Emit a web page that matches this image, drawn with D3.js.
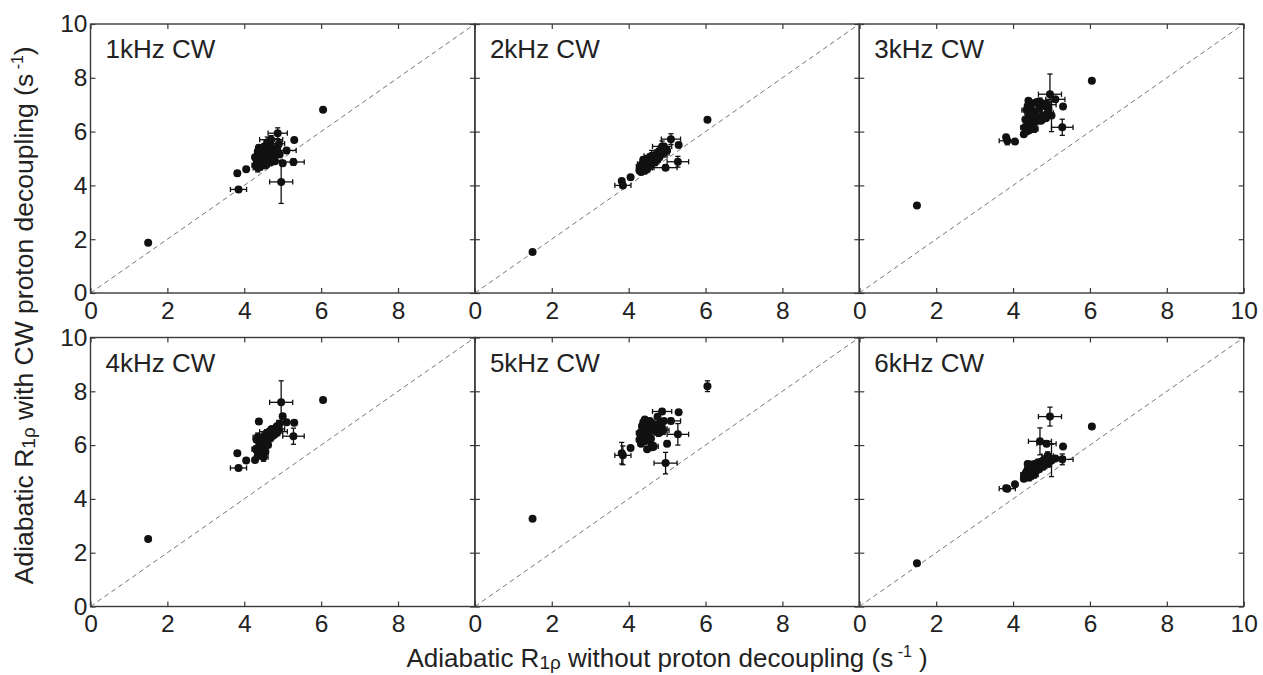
<!DOCTYPE html>
<html>
<head>
<meta charset="utf-8">
<script src="https://cdn.jsdelivr.net/npm/d3@7"></script>
<style>
  html, body { margin: 0; padding: 0; background: #fff; }
  svg { display: block; }
  text { font-family: "Liberation Sans", Arial, Helvetica, sans-serif; fill: #222; }
</style>
</head>
<body>
<svg id="chart" width="1263" height="675"></svg>
<script>
// ---------------- DATA ----------------
const panelLabels = ["1kHz CW", "2kHz CW", "3kHz CW", "4kHz CW", "5kHz CW", "6kHz CW"];
const tickValues = [0, 2, 4, 6, 8, 10];

// x: adiabatic R1rho without proton decoupling (shared by all panels)
const xOutliers = [1.50, 3.82, 3.85, 4.05, 6.05, 5.30, 5.28, 5.00, 4.96, 4.87, 5.10, 4.70];
const xCluster  = [4.28, 4.30, 4.32, 4.35, 4.35, 4.38, 4.40, 4.42, 4.42, 4.45, 4.48, 4.50, 4.52, 4.55,
                   4.55, 4.58, 4.60, 4.62, 4.65, 4.68, 4.72, 4.75, 4.78, 4.80, 4.85, 4.90, 4.92, 4.38];
const xErrOutliers = [0, 0.05, 0.21, 0, 0, 0, 0.28, 0.06, 0.30, 0.25, 0.25, 0.30];
const xErrCluster  = [0.06, 0.10, 0.05, 0.08, 0.12, 0.05, 0.06, 0.10, 0.05, 0.08, 0.06, 0.12, 0.05, 0.07,
                      0.10, 0.05, 0.08, 0.06, 0.12, 0.05, 0.09, 0.06, 0.10, 0.05, 0.08, 0.15, 0.06, 0.05];

// y per panel (with CW proton decoupling)
const y1kHz = [1.87, 4.45, 3.85, 4.60, 6.81, 5.69, 4.87, 4.82, 4.13, 5.94, 5.30, 5.70,
  5.05, 4.75, 4.95, 5.25, 4.65, 4.85, 5.10, 4.70, 5.35, 4.90, 5.15, 4.80, 5.45, 5.00,
  4.75, 5.30, 5.60, 4.95, 5.20, 4.85, 5.40, 5.05, 5.25, 4.90, 5.35, 5.55, 5.15, 5.40];
const y2kHz = [1.52, 4.16, 4.00, 4.30, 6.44, 5.50, 4.88, 5.30, 4.66, 5.45, 5.72, 5.10,
  4.55, 4.70, 4.50, 4.65, 4.80, 4.60, 4.75, 4.55, 4.85, 4.70, 4.90, 4.65, 4.95, 4.80,
  5.05, 4.75, 5.10, 4.90, 5.00, 4.85, 5.15, 4.95, 5.25, 5.05, 5.35, 5.20, 5.45, 4.95];
const y3kHz = [3.25, 5.79, 5.66, 5.63, 7.89, 6.93, 6.16, 6.60, 7.39, 7.00, 7.20, 7.10,
  5.90, 6.15, 6.45, 6.00, 6.80, 6.30, 7.15, 6.55, 6.05, 6.90, 6.20, 6.60, 7.05, 6.35,
  6.10, 6.75, 6.45, 7.10, 6.55, 6.85, 6.40, 7.05, 6.60, 6.95, 6.50, 6.70, 6.85, 6.95];
const y4kHz = [2.51, 5.70, 5.15, 5.43, 7.68, 6.83, 6.33, 7.07, 7.59, 6.50, 6.85, 6.50,
  5.45, 5.85, 6.20, 5.60, 6.30, 5.95, 6.10, 5.70, 6.25, 5.90, 6.15, 5.55, 6.35, 5.75,
  6.05, 6.45, 6.20, 6.00, 6.50, 6.25, 6.60, 6.35, 6.55, 6.40, 6.70, 6.60, 6.80, 6.88];
const y5kHz = [3.26, 5.70, 5.62, 5.89, 8.19, 7.22, 6.40, 6.05, 5.33, 7.25, 6.90, 6.60,
  6.20, 6.45, 6.05, 6.70, 6.30, 6.85, 6.50, 6.15, 6.95, 6.60, 5.85, 6.75, 6.40, 6.90,
  6.55, 6.25, 6.00, 6.80, 5.95, 6.65, 6.50, 7.05, 6.45, 6.80, 6.70, 6.55, 6.90, 6.20];
const y6kHz = [1.61, 4.40, 4.38, 4.54, 6.69, 5.95, 5.47, 5.43, 7.06, 6.05, 5.50, 6.14,
  4.75, 4.90, 4.80, 5.00, 4.85, 5.10, 4.95, 4.80, 5.20, 5.05, 4.90, 5.25, 5.00, 5.15,
  4.90, 5.30, 5.05, 5.20, 5.35, 5.10, 5.25, 5.40, 5.20, 5.45, 5.35, 5.60, 5.30, 5.30];

// y error per panel (outliers first, then cluster)
const yErrCluster = [0.08, 0.12, 0.06, 0.10, 0.15, 0.06, 0.08, 0.12, 0.06, 0.10, 0.08, 0.15, 0.06, 0.09,
                     0.12, 0.06, 0.20, 0.08, 0.12, 0.06, 0.10, 0.08, 0.12, 0.06, 0.10, 0.15, 0.08, 0.10];
const yErr1kHz = [0, 0.10, 0.10, 0, 0, 0, 0.12, 0.10, 0.80, 0.20, 0.10, 0.15];
const yErr2kHz = [0, 0.08, 0.08, 0, 0, 0, 0.20, 0.10, 0.10, 0.20, 0.20, 0.10];
const yErr3kHz = [0, 0.10, 0.15, 0, 0, 0, 0.30, 0.60, 0.75, 0.15, 0.10, 0.15];
const yErr4kHz = [0, 0, 0.08, 0, 0, 0, 0.30, 0.10, 0.80, 0.15, 0.10, 0.15];
const yErr5kHz = [0, 0.40, 0.35, 0, 0.20, 0, 0.40, 0.10, 0.40, 0.10, 0.10, 0.10];
const yErr6kHz = [0, 0.10, 0.10, 0, 0, 0, 0.20, 0.60, 0.35, 0.10, 0.10, 0.50];

// ---------------- BUILD ----------------
const xVals = xOutliers.concat(xCluster);
const xErrs = xErrOutliers.concat(xErrCluster);
const ySeries = [y1kHz, y2kHz, y3kHz, y4kHz, y5kHz, y6kHz];
const yErrSeries = [yErr1kHz, yErr2kHz, yErr3kHz, yErr4kHz, yErr5kHz, yErr6kHz].map(a => a.concat(yErrCluster));

const svg = d3.select("#chart");
const left = 90.5, plotW = 384.4, plotH = 269;
const tops = [24, 337.5];
const frameColor = "#3a3a3a";
const fontFam = "'Liberation Sans', Arial, Helvetica, sans-serif";

ySeries.forEach((ys, p) => {
  const col = p % 3, row = Math.floor(p / 3);
  const x0 = left + col * plotW, y0 = tops[row];
  const g = svg.append("g").attr("transform", `translate(${x0},${y0})`);
  const x = d3.scaleLinear().domain([0, 10]).range([0, plotW]);
  const y = d3.scaleLinear().domain([0, 10]).range([plotH, 0]);

  // diagonal y = x
  g.append("line")
    .attr("x1", x(0)).attr("y1", y(0)).attr("x2", x(10)).attr("y2", y(10))
    .attr("stroke", "#777").attr("stroke-width", 1).attr("stroke-dasharray", "5,3.5");

  const pts = xVals.map((xv, i) => ({ x: xv, y: ys[i], xe: xErrs[i], ye: yErrSeries[p][i] }));

  // error bars
  const eb = g.append("g").attr("stroke", "#111").attr("stroke-width", 1.3);
  const cap = 2.6;
  pts.forEach(d => {
    if (d.xe > 0) {
      eb.append("line").attr("x1", x(d.x - d.xe)).attr("x2", x(d.x + d.xe)).attr("y1", y(d.y)).attr("y2", y(d.y));
      eb.append("line").attr("x1", x(d.x - d.xe)).attr("x2", x(d.x - d.xe)).attr("y1", y(d.y) - cap).attr("y2", y(d.y) + cap);
      eb.append("line").attr("x1", x(d.x + d.xe)).attr("x2", x(d.x + d.xe)).attr("y1", y(d.y) - cap).attr("y2", y(d.y) + cap);
    }
    if (d.ye > 0) {
      eb.append("line").attr("x1", x(d.x)).attr("x2", x(d.x)).attr("y1", y(d.y - d.ye)).attr("y2", y(d.y + d.ye));
      eb.append("line").attr("x1", x(d.x) - cap).attr("x2", x(d.x) + cap).attr("y1", y(d.y - d.ye)).attr("y2", y(d.y - d.ye));
      eb.append("line").attr("x1", x(d.x) - cap).attr("x2", x(d.x) + cap).attr("y1", y(d.y + d.ye)).attr("y2", y(d.y + d.ye));
    }
  });

  // points
  g.append("g").selectAll("circle").data(pts).join("circle")
    .attr("cx", d => x(d.x)).attr("cy", d => y(d.y)).attr("r", 4).attr("fill", "#111");

  // axes with inward ticks
  const showX = v => (col === 2 || v !== 10) ? String(v) : "";
  const gx = g.append("g").attr("transform", `translate(0,${plotH})`)
    .call(d3.axisBottom(x).tickValues(tickValues).tickSize(-5).tickPadding(8).tickFormat(showX));
  const gxt = g.append("g")
    .call(d3.axisTop(x).tickValues(tickValues).tickSize(-5).tickFormat(""));
  const gy = g.append("g")
    .call(d3.axisLeft(y).tickValues(tickValues).tickSize(-5).tickPadding(3).tickFormat(col === 0 ? d => String(d) : ""));
  const gyr = g.append("g").attr("transform", `translate(${plotW},0)`)
    .call(d3.axisRight(y).tickValues(tickValues).tickSize(-5).tickFormat(""));
  [gx, gxt, gy, gyr].forEach(a => {
    a.select(".domain").remove();
    a.selectAll(".tick line").attr("stroke", frameColor).attr("stroke-width", 1.2);
    a.selectAll(".tick text").attr("font-size", 24.5).attr("fill", "#222").attr("font-family", fontFam);
  });
  gx.selectAll(".tick text").attr("dy", "0.72em");

  // frame
  g.append("rect").attr("x", 0).attr("y", 0).attr("width", plotW).attr("height", plotH)
    .attr("fill", "none").attr("stroke", frameColor).attr("stroke-width", 1.4);

  // panel label
  g.append("text").attr("x", 15).attr("y", 34).attr("font-size", 26).text(panelLabels[p]);
});

// axis titles
const yTitle = svg.append("text")
  .attr("transform", `translate(33,${(tops[0] + tops[1] + plotH) / 2}) rotate(-90)`)
  .attr("text-anchor", "middle").attr("font-size", 26.5);
yTitle.append("tspan").text("Adiabatic R");
yTitle.append("tspan").attr("font-size", 19).attr("dy", 2).text("1ρ");
yTitle.append("tspan").attr("dy", -2).text(" with CW proton decoupling (s");
yTitle.append("tspan").attr("font-size", 16).attr("dy", -10).text(" -1");
yTitle.append("tspan").attr("dy", 10).text(")");

const xTitle = svg.append("text")
  .attr("x", left + plotW * 1.5).attr("y", 667)
  .attr("text-anchor", "middle").attr("font-size", 26);
xTitle.append("tspan").text("Adiabatic R");
xTitle.append("tspan").attr("font-size", 19).attr("dy", 2).text("1ρ");
xTitle.append("tspan").attr("dy", -2).text(" without proton decoupling (s");
xTitle.append("tspan").attr("font-size", 16).attr("dy", -10).text(" -1");
xTitle.append("tspan").attr("dy", 10).text(" )");
</script>
</body>
</html>
